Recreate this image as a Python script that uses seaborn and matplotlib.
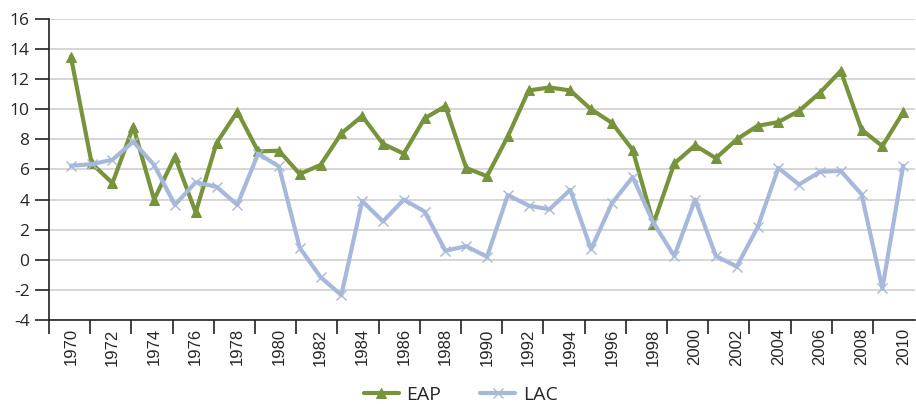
import matplotlib
matplotlib.use("Agg")
import matplotlib.pyplot as plt
import seaborn as sns
import numpy as np
import pandas as pd

years = list(range(1970, 2011))
eap = [13.5, 6.4, 5.1, 8.85, 4.0, 6.85, 3.15, 7.75, 9.85, 7.2,
       7.25, 5.7, 6.3, 8.4, 9.55, 7.7, 7.05, 9.4, 10.2, 6.1,
       5.55, 8.2, 11.25, 11.45, 11.25, 10.0, 9.1, 7.3, 2.4, 6.4,
       7.6, 6.75, 8.0, 8.9, 9.15, 9.9, 11.1, 12.55, 8.65, 7.55, 9.8]
lac = [6.25, 6.35, 6.65, 7.85, 6.3, 3.65, 5.15, 4.85, 3.65, 7.05,
       6.2, 0.8, -1.15, -2.35, 3.9, 2.55, 4.0, 3.2, 0.6, 0.9,
       0.2, 4.3, 3.6, 3.35, 4.65, 0.7, 3.75, 5.5, 2.45, 0.25,
       4.0, 0.25, -0.45, 2.15, 6.1, 5.0, 5.85, 5.9, 4.35, -1.9, 6.25]
series_names = ["EAP", "LAC"]
yticks = list(range(-4, 17, 2))

df = pd.DataFrame({"year": years, "EAP": eap, "LAC": lac})

sns.set_style("white")
plt.rcParams["font.family"] = ["Open Sans", "DejaVu Sans"]

fig = plt.figure(figsize=(9.16, 4.04), dpi=100)
ax = fig.add_axes([0.0535, 0.208, 0.945, 0.745])

green = "#77933C"
blue = "#A6B9DA"

sns.lineplot(data=df, x="year", y="EAP", ax=ax, color=green, linewidth=3.0,
             marker="^", markersize=7, markeredgecolor=green, label="EAP",
             zorder=3)
sns.lineplot(data=df, x="year", y="LAC", ax=ax, color=blue, linewidth=3.0,
             marker="x", markersize=7, markeredgewidth=1.0, markeredgecolor=blue,
             label="LAC", zorder=3)

ax.set_ylim(-4, 16)
ax.set_yticks(yticks)
ax.set_yticklabels([str(v) for v in yticks], fontsize=12.5, fontfamily="Open Sans")
ax.yaxis.grid(True, color="#D0D0D0", linewidth=1.2)
ax.set_axisbelow(True)

ax.set_xlim(1968.95, 2010.55)
ax.set_xticks(years[::2])
ax.set_xticklabels([str(y) for y in years[::2]], rotation=90, fontsize=12,
                   fontfamily="Liberation Sans")
ax.set_xticks([1968.95 + 1.98 * k for k in range(21)], minor=True)
ax.tick_params(axis="x", which="major", length=0, pad=6)
ax.tick_params(axis="x", which="minor", length=10, width=1.2, color="#222222",
               direction="out", bottom=True)
ax.tick_params(axis="y", which="major", length=10, width=1.2, color="#222222",
               direction="out", left=True, pad=4)

ax.set_xlabel("")
ax.set_ylabel("")
for s in ["top", "right"]:
    ax.spines[s].set_visible(False)
for s in ["left", "bottom"]:
    ax.spines[s].set_color("#222222")
    ax.spines[s].set_linewidth(1.2)

ax.legend(loc="center", bbox_to_anchor=(0.503, 0.022), bbox_transform=fig.transFigure,
          ncol=2, frameon=False, fontsize=14, handlelength=1.8, columnspacing=2.0,
          handletextpad=0.4, borderpad=0)

fig.savefig("out.png", dpi=100)
